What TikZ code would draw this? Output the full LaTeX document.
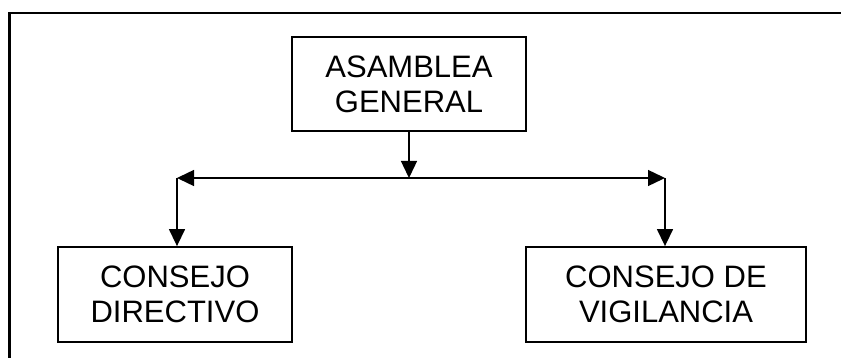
\documentclass[tikz,border=0pt]{standalone}
\usepackage{fontspec}
\setmainfont{Liberation Sans}
\usetikzlibrary{arrows.meta}

\tikzset{
  >={Triangle[length=17pt, width=16pt]},
  cargo/.style={draw, line width=1.8pt, align=center, inner sep=0pt,
    font=\fontsize{31}{35}\selectfont},
  flecha/.style={line width=1.4pt, ->}
}

\begin{document}
\begin{tikzpicture}[x=1pt, y=-1pt]
    \useasboundingbox (0, 0) rectangle (841, 358);
    \draw [line width=2.6pt] (9.5, 358) -- (9.5, 13) -- (841, 13);

    \node [cargo, minimum width=234pt, minimum height=94pt] (asamblea) at (409, 84) {ASAMBLEA\\GENERAL};
    \node [cargo, minimum width=234pt, minimum height=95pt] (directivo) at (175, 294.5) {CONSEJO\\DIRECTIVO};
    \node [cargo, minimum width=280pt, minimum height=95pt] (vigilancia) at (666, 294.5) {CONSEJO DE\\VIGILANCIA};

    \coordinate (centro) at (409, 178);
    \coordinate (izq) at (177, 178);
    \coordinate (der) at (665, 178);

    \draw [flecha] (asamblea.south) -- (centro);
    \draw [flecha, <->] (izq) -- (der);
    \draw [flecha] (izq) -- (izq |- directivo.north);
    \draw [flecha] (der) -- (der |- vigilancia.north);
  \end{tikzpicture}
\end{document}
